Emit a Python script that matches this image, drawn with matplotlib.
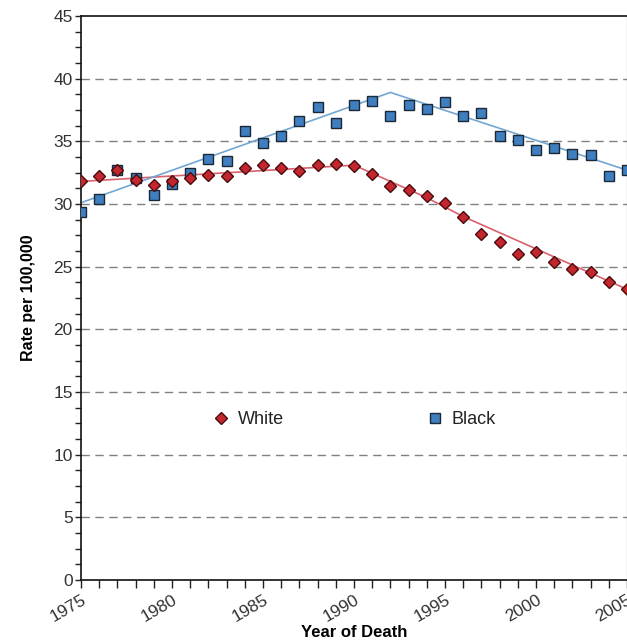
import matplotlib
matplotlib.use("Agg")
import matplotlib.pyplot as plt
from matplotlib.ticker import MultipleLocator
from matplotlib.lines import Line2D

plt.rcParams['font.family'] = ['Liberation Sans', 'DejaVu Sans']

years = list(range(1975, 2006))
white = [31.8, 32.2, 32.7, 31.9, 31.5, 31.8, 32.1, 32.3, 32.2, 32.9, 33.1, 32.9,
         32.6, 33.1, 33.2, 33.0, 32.4, 31.4, 31.1, 30.6, 30.1, 29.0, 27.6, 27.0,
         26.0, 26.2, 25.4, 24.8, 24.6, 23.8, 23.2]
black = [29.4, 30.4, 32.7, 32.1, 30.7, 31.6, 32.5, 33.6, 33.4, 35.8, 34.9, 35.4,
         36.6, 37.7, 36.5, 37.9, 38.2, 37.0, 37.9, 37.6, 38.1, 37.0, 37.3, 35.4,
         35.1, 34.3, 34.5, 34.0, 33.9, 32.2, 32.7]
# joinpoint trend segments
white_trend_years = [1975, 1990, 1994, 1996, 2005]
white_trend = [31.8, 33.1, 30.5, 29.0, 23.2]
black_trend_years = [1975, 1992, 2005]
black_trend = [30.1, 38.9, 32.7]

fig = plt.figure(figsize=(6.27, 6.41), dpi=100)
ax = fig.add_axes([81/627, 1-580/641, 546/627, 564/641])

ax.plot(white_trend_years, white_trend, color='#d9606c', lw=1.2, zorder=2)
ax.plot(black_trend_years, black_trend, color='#74a6d2', lw=1.2, zorder=2)
ax.plot(years, black, ls='none', marker='s', ms=7.5, mfc='#3f7fbf',
        mec='#1b2836', mew=1.0, zorder=3)
ax.plot(years, white, ls='none', marker='D', ms=6.5, mfc='#c3262e',
        mec='#4a0d0d', mew=1.0, zorder=4)

ax.set_xlim(1975, 2005)
ax.set_ylim(0, 45)
ax.yaxis.set_major_locator(MultipleLocator(5))
ax.yaxis.set_minor_locator(MultipleLocator(1.25))
ax.xaxis.set_major_locator(MultipleLocator(5))
ax.xaxis.set_minor_locator(MultipleLocator(1))

for v in range(5, 45, 5):
    ax.axhline(v, color='#808080', lw=1.0, ls=(0, (6, 4)), zorder=1)

ax.tick_params(axis='both', which='major', direction='out', length=6, width=1,
               labelsize=12.5, colors='#222222', labelcolor='#333333')
ax.tick_params(axis='both', which='minor', direction='out', length=4, width=1,
               colors='#222222')
ax.tick_params(axis='y', which='both', length=4, pad=2)
ax.tick_params(axis='x', which='both', length=6, pad=3)
for lab in ax.get_xticklabels():
    lab.set_rotation(30)
    lab.set_ha('right')
    lab.set_rotation_mode('anchor')

for s in ['left', 'bottom', 'top']:
    ax.spines[s].set_color('#111111')
    ax.spines[s].set_linewidth(1.2)
ax.spines['right'].set_color('#666666')

ax.set_xlabel('Year of Death', fontsize=12, fontweight='bold', labelpad=0)
ax.set_ylabel('Rate per 100,000', fontsize=11.5, fontweight='bold', labelpad=12)

handles = [Line2D([], [], ls='none', marker='D', ms=6.5, mfc='#c3262e', mec='#4a0d0d'),
           Line2D([], [], ls='none', marker='s', ms=7.5, mfc='#3f7fbf', mec='#1b2836')]
ax.legend(handles, ['White', 'Black'], ncol=2, frameon=False, fontsize=13,
          loc='center', bbox_to_anchor=(0.5, 0.284), handlelength=1.0,
          handletextpad=0.4, columnspacing=7.9, labelcolor='#222222')

fig.savefig('out.png', dpi=100)
